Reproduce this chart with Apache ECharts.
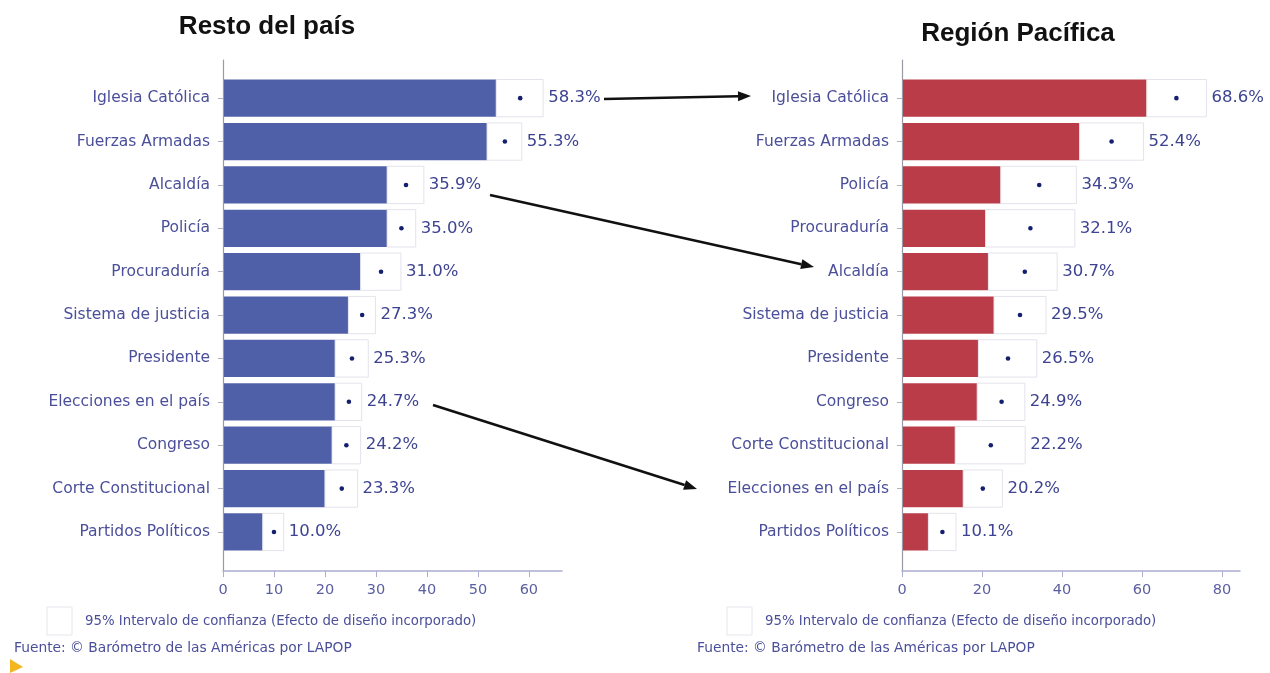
<!DOCTYPE html>
<html>
<head>
<meta charset="utf-8">
<title>Confianza en instituciones</title>
<script src="https://cdn.jsdelivr.net/npm/echarts@6/dist/echarts.min.js"></script>
<style>
  html, body { margin: 0; padding: 0; background: #fff; }
  #main { width: 1270px; height: 673px; }
</style>
</head>
<body>
<div id="main"></div>
<script>
// Resto del país
var restoCats = ['Iglesia Católica', 'Fuerzas Armadas', 'Alcaldía', 'Policía', 'Procuraduría', 'Sistema de justicia', 'Presidente', 'Elecciones en el país', 'Congreso', 'Corte Constitucional', 'Partidos Políticos'];
var restoMedia = [58.3, 55.3, 35.9, 35.0, 31.0, 27.3, 25.3, 24.7, 24.2, 23.3, 10.0];
var restoInf = [53.6, 51.8, 32.2, 32.2, 27.0, 24.6, 22.0, 22.0, 21.4, 20.0, 7.8];
var restoSup = [62.8, 58.6, 39.4, 37.8, 34.9, 29.9, 28.5, 27.2, 27.0, 26.4, 11.9];

// Región Pacífica
var pacCats = ['Iglesia Católica', 'Fuerzas Armadas', 'Policía', 'Procuraduría', 'Alcaldía', 'Sistema de justicia', 'Presidente', 'Congreso', 'Corte Constitucional', 'Elecciones en el país', 'Partidos Políticos'];
var pacMedia = [68.6, 52.4, 34.3, 32.1, 30.7, 29.5, 26.5, 24.9, 22.2, 20.2, 10.1];
var pacInf = [61.2, 44.4, 24.7, 20.9, 21.6, 23.0, 19.1, 18.8, 13.3, 15.3, 6.6];
var pacSup = [76.1, 60.4, 43.6, 43.2, 38.8, 36.0, 33.7, 30.7, 30.8, 25.1, 13.5];

var restoTicks = [0, 10, 20, 30, 40, 50, 60];
var pacTicks = [0, 20, 40, 60, 80];
var filas = [0, 1, 2, 3, 4, 5, 6, 7, 8, 9, 10];

var txtColor = '#4b4f9a';
var fuente = '"DejaVu Sans", sans-serif';

// barra hasta el limite inferior, caja blanca = intervalo, punto = media
function renderIC(color) {
  return function (params, api) {
    var i = api.value(0), lo = api.value(1), hi = api.value(2), m = api.value(3);
    var p0 = api.coord([0, i]);
    var pLo = api.coord([lo, i]);
    var pHi = api.coord([hi, i]);
    var pM = api.coord([m, i]);
    var h = api.size([0, 1])[1] * 0.86;
    return {
      type: 'group',
      children: [
        { type: 'rect', shape: { x: p0[0] + 1, y: p0[1] - h / 2, width: pLo[0] - p0[0] - 1, height: h }, style: { fill: color } },
        { type: 'rect', shape: { x: pLo[0], y: pLo[1] - h / 2, width: pHi[0] - pLo[0], height: h }, style: { fill: '#fff', stroke: '#e3e3ec', lineWidth: 1 } },
        { type: 'circle', shape: { cx: pM[0], cy: pM[1], r: 2.3 }, style: { fill: '#14206e' } },
        { type: 'text', x: pHi[0] + 5, y: pM[1], style: { text: m.toFixed(1) + '%', fill: '#3d4390', font: '16.5px ' + fuente, verticalAlign: 'middle' } }
      ]
    };
  };
}

function ejeX(idx, max, ticks) {
  return {
    gridIndex: idx, type: 'value', min: 0, max: max,
    axisLine: { show: true, onZero: false, lineStyle: { color: '#aaacd0', width: 1.5 } },
    axisTick: { show: true, customValues: ticks, length: 6, lineStyle: { color: '#aaacd0' } },
    axisLabel: { customValues: ticks, color: '#5a5fa0', fontSize: 14.5, fontFamily: fuente, margin: 12 },
    splitLine: { show: false }
  };
}

function ejeY(idx, cats) {
  return {
    gridIndex: idx, type: 'value', inverse: true, min: -0.88, max: 10.9,
    axisLine: { show: true, onZero: false, lineStyle: { color: '#9a9aa6', width: 1.2 } },
    axisTick: { show: true, customValues: filas, length: 5, lineStyle: { color: '#b0b0c0' } },
    axisLabel: {
      customValues: filas, color: txtColor, fontSize: 15.5, fontFamily: fuente, margin: 13,
      formatter: function (v) { return cats[Math.round(v)]; }
    },
    splitLine: { show: false }
  };
}

function flecha(x1, y1, x2, y2) {
  var a = Math.atan2(y2 - y1, x2 - x1), L = 13, W = 5;
  var bx = x2 - L * Math.cos(a), by = y2 - L * Math.sin(a);
  var nx = -Math.sin(a) * W, ny = Math.cos(a) * W;
  return [
    { type: 'line', shape: { x1: x1, y1: y1, x2: bx, y2: by }, style: { stroke: '#111', lineWidth: 2.6 } },
    { type: 'polygon', shape: { points: [[x2, y2], [bx + nx, by + ny], [bx - nx, by - ny]] }, style: { fill: '#111' } }
  ];
}

var graficos = [
  { type: 'text', x: 267, y: 27, style: { text: 'Resto del país', font: 'bold 26px "Liberation Sans", Arial, sans-serif', fill: '#111', align: 'center', verticalAlign: 'middle' } },
  { type: 'text', x: 1018, y: 34, style: { text: 'Región Pacífica', font: 'bold 26px "Liberation Sans", Arial, sans-serif', fill: '#111', align: 'center', verticalAlign: 'middle' } },
  { type: 'rect', shape: { x: 47, y: 607, width: 25, height: 28 }, style: { fill: '#fff', stroke: '#e6e6ee' } },
  { type: 'text', x: 85, y: 622, style: { text: '95% Intervalo de confianza (Efecto de diseño incorporado)', font: '13.3px ' + fuente, fill: txtColor, verticalAlign: 'middle' } },
  { type: 'text', x: 14, y: 648, style: { text: 'Fuente: © Barómetro de las Américas por LAPOP', font: '13.8px ' + fuente, fill: txtColor, verticalAlign: 'middle' } },
  { type: 'rect', shape: { x: 727, y: 607, width: 25, height: 28 }, style: { fill: '#fff', stroke: '#e6e6ee' } },
  { type: 'text', x: 765, y: 622, style: { text: '95% Intervalo de confianza (Efecto de diseño incorporado)', font: '13.3px ' + fuente, fill: txtColor, verticalAlign: 'middle' } },
  { type: 'text', x: 697, y: 648, style: { text: 'Fuente: © Barómetro de las Américas por LAPOP', font: '13.8px ' + fuente, fill: txtColor, verticalAlign: 'middle' } },
  { type: 'polygon', shape: { points: [[10, 659], [23, 667], [10, 673]] }, style: { fill: '#f3b61f' } }
].concat(flecha(604, 99, 751, 96), flecha(490, 195, 814, 267), flecha(433, 405, 697, 489));

var myChart = echarts.init(document.getElementById('main'));

var option = {
  backgroundColor: '#fff',
  animation: false,
  grid: [
    { left: 223, top: 60, width: 339, height: 511 },
    { left: 902, top: 60, width: 338, height: 511 }
  ],
  xAxis: [ejeX(0, 66.5, restoTicks), ejeX(1, 84.5, pacTicks)],
  yAxis: [ejeY(0, restoCats), ejeY(1, pacCats)],
  series: [
    {
      type: 'custom', xAxisIndex: 0, yAxisIndex: 0,
      renderItem: renderIC('#5060a8'),
      encode: { x: [1, 2, 3], y: 0 },
      data: restoMedia.map(function (m, i) { return [i, restoInf[i], restoSup[i], m]; })
    },
    {
      type: 'custom', xAxisIndex: 1, yAxisIndex: 1,
      renderItem: renderIC('#b93c48'),
      encode: { x: [1, 2, 3], y: 0 },
      data: pacMedia.map(function (m, i) { return [i, pacInf[i], pacSup[i], m]; })
    }
  ],
  graphic: graficos
};

myChart.setOption(option);
</script>
</body>
</html>
